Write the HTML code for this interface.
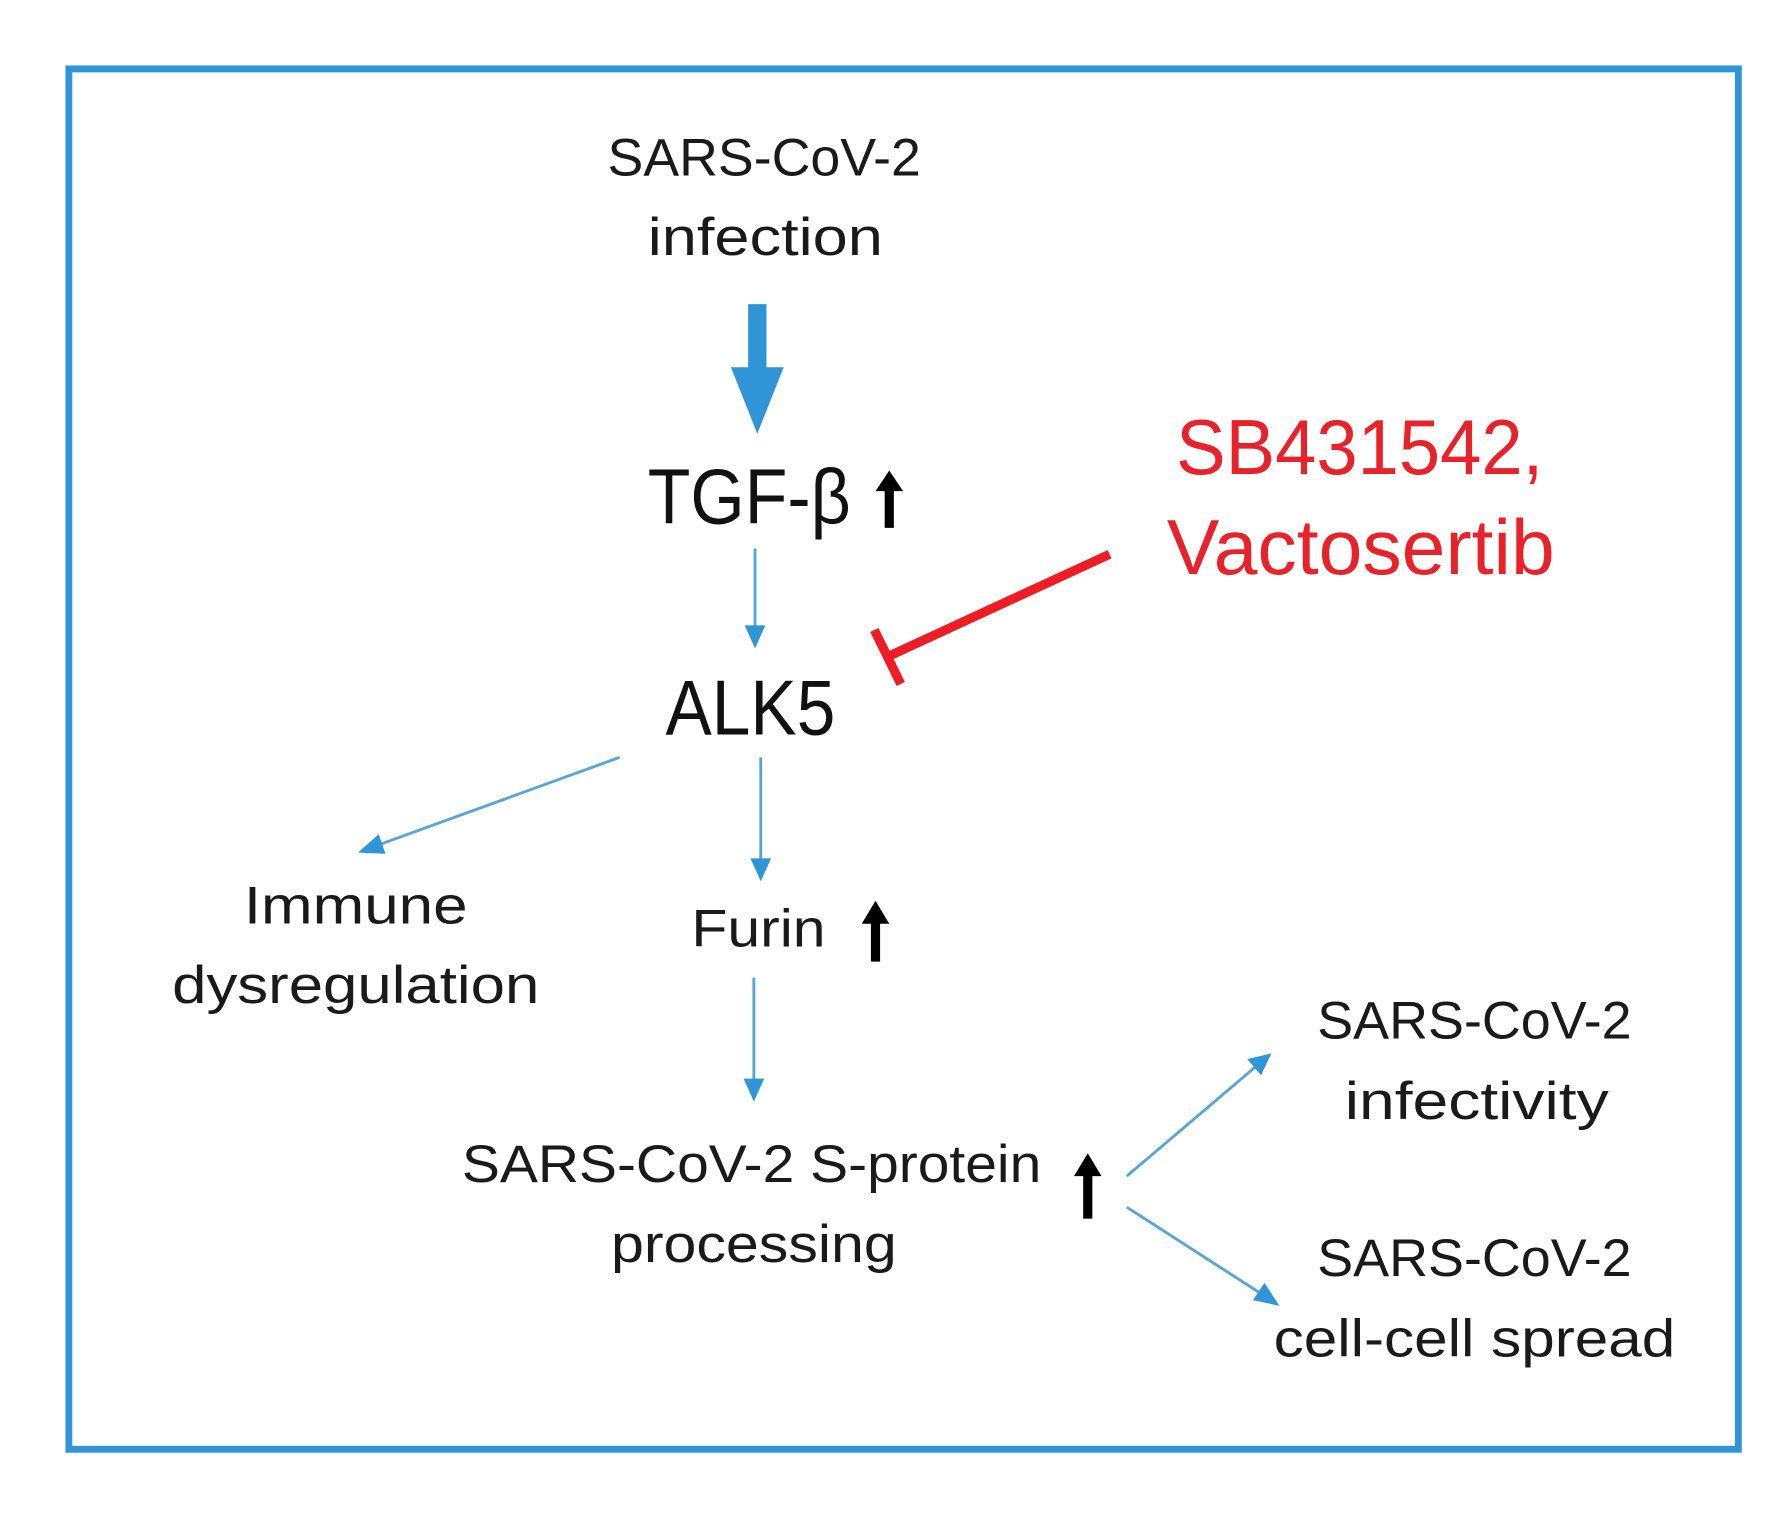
<!DOCTYPE html>
<html><head><meta charset="utf-8"><style>
html,body{margin:0;padding:0;background:#fff;}
svg{display:block;}
text{font-family:"Liberation Sans",sans-serif;}
</style></head><body>
<svg width="1790" height="1513" viewBox="0 0 1560 1318.5" xmlns="http://www.w3.org/2000/svg">
<rect x="60" y="60" width="1455" height="1203" fill="none" stroke="#2f95d6" stroke-width="6"/>
<g fill="#1a1a1a" font-size="46" text-anchor="middle">
<text x="666" y="153" textLength="273" lengthAdjust="spacingAndGlyphs">SARS-CoV-2</text>
<text x="667" y="222" textLength="205" lengthAdjust="spacingAndGlyphs">infection</text>
<text x="310" y="805" textLength="195" lengthAdjust="spacingAndGlyphs">Immune</text>
<text x="310" y="874" textLength="320" lengthAdjust="spacingAndGlyphs">dysregulation</text>
<text x="661" y="825" textLength="117" lengthAdjust="spacingAndGlyphs">Furin</text>
<text x="655" y="1030" textLength="505" lengthAdjust="spacingAndGlyphs">SARS-CoV-2 S-protein</text>
<text x="657" y="1100" textLength="249" lengthAdjust="spacingAndGlyphs">processing</text>
<text x="1285" y="905" textLength="274" lengthAdjust="spacingAndGlyphs">SARS-CoV-2</text>
<text x="1287" y="975" textLength="230" lengthAdjust="spacingAndGlyphs">infectivity</text>
<text x="1285" y="1112" textLength="274" lengthAdjust="spacingAndGlyphs">SARS-CoV-2</text>
<text x="1285" y="1182" textLength="350" lengthAdjust="spacingAndGlyphs">cell-cell spread</text>
</g>
<g fill="#111" font-size="68" text-anchor="middle">
<text x="653" y="456" textLength="177" lengthAdjust="spacingAndGlyphs">TGF-β</text>
<text x="654" y="640" textLength="148" lengthAdjust="spacingAndGlyphs">ALK5</text>
</g>
<g fill="#e8222a" font-size="68" text-anchor="middle">
<text x="1185" y="413" textLength="320" lengthAdjust="spacingAndGlyphs">SB431542,</text>
<text x="1186" y="500" textLength="338" lengthAdjust="spacingAndGlyphs">Vactosertib</text>
</g>
<!-- thick arrow -->
<rect x="652" y="265" width="16" height="60" fill="#2f95d6"/>
<polygon points="637,320 683,320 660,378" fill="#2f95d6"/>
<!-- thin arrows -->
<g stroke="#5aa5d6" stroke-width="2.5" fill="none">
<line x1="658" y1="478" x2="658" y2="548"/>
<line x1="540" y1="660" x2="328" y2="737"/>
<line x1="663" y1="660" x2="663" y2="750"/>
<line x1="657" y1="852" x2="657" y2="942"/>
<line x1="982" y1="1025" x2="1095" y2="929"/>
<line x1="982" y1="1052" x2="1100" y2="1128"/>
</g>
<g fill="#2f95d6">
<polygon points="649,545 667,545 658,565"/>
<polygon points="654,748 672,748 663,768"/>
<polygon points="648,940 666,940 657,960"/>
<polygon points="312,743 330,727 336,744"/>
<polygon points="1108,918 1087,923 1099,937"/>
<polygon points="1115,1138 1092,1133 1102,1118"/>
</g>
<!-- red inhibitor -->
<g stroke="#ee1c24" stroke-width="8" stroke-linecap="butt">
<line x1="967" y1="483" x2="772" y2="573"/>
<line x1="762" y1="549" x2="785" y2="596"/>
</g>
<!-- black up arrows -->
<g fill="#000">
<rect x="771" y="425" width="8" height="35"/><polygon points="763,428 787,428 775,410"/>
<rect x="759" y="802" width="8" height="36"/><polygon points="751,805 775,805 763,785"/>
<rect x="944" y="1022" width="8" height="40"/><polygon points="936,1025 960,1025 948,1005"/>
</g>
</svg>
</body></html>
